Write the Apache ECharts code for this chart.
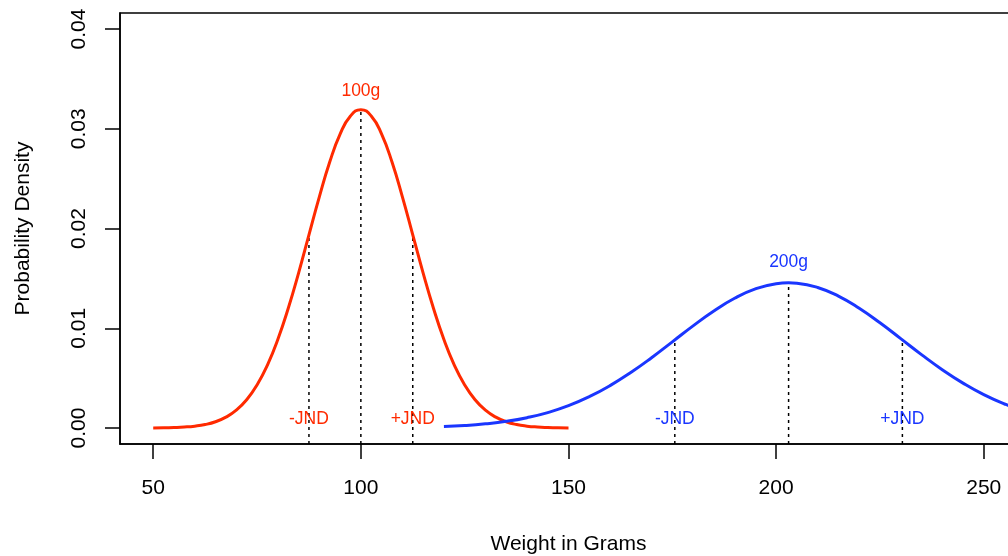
<!DOCTYPE html>
<html>
<head>
<meta charset="utf-8">
<script src="https://cdn.jsdelivr.net/npm/echarts@6/dist/echarts.min.js"></script>
<style>
  html, body { margin: 0; padding: 0; background: #fff; }
  #chart { width: 1008px; height: 556px; }
</style>
</head>
<body>
<div id="chart"></div>
<script>
// weights (g) and densities
const redX = [50, 52.5, 55, 57.5, 60, 62.5, 65, 67.5, 70, 72.5, 75, 77.5, 80, 82.5, 85, 87.5, 90, 92.5, 95, 97.5,
  100, 102.5, 105, 107.5, 110, 112.5, 115, 117.5, 120, 122.5, 125, 127.5, 130, 132.5, 135, 137.5, 140, 142.5, 145, 147.5, 150];
const redY = [0.00001, 0.00002, 0.00005, 0.00010, 0.00019, 0.00035, 0.00063, 0.00109, 0.00179, 0.00284, 0.00432,
  0.00631, 0.00887, 0.01198, 0.01553, 0.01936, 0.02317, 0.02666, 0.02946, 0.03128,
  0.03191, 0.03128, 0.02946, 0.02666, 0.02317, 0.01936, 0.01553, 0.01198, 0.00887, 0.00631,
  0.00432, 0.00284, 0.00179, 0.00109, 0.00063, 0.00035, 0.00019, 0.00010, 0.00005, 0.00002, 0.00001];

const blueX = [120, 125, 130, 135, 140, 145, 150, 155, 160, 165, 170, 175, 180, 185, 190, 195, 200, 203,
  205, 210, 215, 220, 225, 230, 235, 240, 245, 250, 255, 260, 265];
const blueY = [0.00015, 0.00025, 0.00042, 0.00067, 0.00104, 0.00155, 0.00224, 0.00314, 0.00425, 0.00557,
  0.00705, 0.00864, 0.01024, 0.01173, 0.01301, 0.01395, 0.01447, 0.01456, 0.01452, 0.01409, 0.01323,
  0.01201, 0.01055, 0.00896, 0.00736, 0.00585, 0.00450, 0.00334, 0.00241, 0.00167, 0.00113];

// dotted guide lines: x position, top value
const redGuides = [[87.5, 0.01936], [100, 0.03191], [112.5, 0.01936]];
const blueGuides = [[175.6, 0.00883], [203, 0.01456], [230.4, 0.00883]];

// text labels: x, y, text
const redText = [[100, 0.0338, '100g'], [87.5, 0.0009, '-JND'], [112.5, 0.0009, '+JND']];
const blueText = [[203, 0.01665, '200g'], [175.6, 0.0009, '-JND'], [230.4, 0.0009, '+JND']];

const xTicks = [50, 100, 150, 200, 250];
const yTicks = [0, 0.01, 0.02, 0.03, 0.04];

const RED = '#ff2a00';
const BLUE = '#1a36ff';
const FONT = 'Liberation Sans, Arial, sans-serif';
const yBottom = -0.0016;

const chart = echarts.init(document.getElementById('chart'));

function zip(xs, ys) { return xs.map((x, i) => [x, ys[i]]); }

function guideSeries(list) {
  return list.map(g => ({
    type: 'line',
    data: [[g[0], yBottom], [g[0], g[1]]],
    symbol: 'none',
    silent: true,
    lineStyle: { color: '#000', width: 1.5, type: [3, 4] },
    z: 1
  }));
}

function textSeries(list, color) {
  return {
    type: 'scatter',
    data: list.map(t => ({ value: [t[0], t[1]], name: t[2] })),
    symbolSize: 0,
    silent: true,
    label: {
      show: true,
      position: 'inside',
      formatter: p => p.name,
      color: color,
      opacity: 1,
      fontSize: 17.5,
      fontFamily: FONT
    },
    z: 5
  };
}

chart.setOption({
  animation: false,
  backgroundColor: '#fff',
  grid: {
    left: 120, top: 13, width: 897, height: 431,
    show: true, borderColor: '#000', borderWidth: 1.5,
    containLabel: false,
    outerBoundsMode: 'none'
  },
  xAxis: {
    type: 'value',
    min: 42, max: 258,
    name: 'Weight in Grams',
    nameLocation: 'middle',
    nameGap: 90,
    nameTextStyle: { fontSize: 21, color: '#000', fontFamily: FONT },
    axisLine: { show: true, onZero: false, lineStyle: { color: '#000', width: 1.5 } },
    axisTick: { show: true, length: 15, customValues: xTicks, lineStyle: { color: '#000', width: 1.5 } },
    axisLabel: { customValues: xTicks, margin: 34, fontSize: 21, color: '#000', fontFamily: FONT },
    splitLine: { show: false }
  },
  yAxis: {
    type: 'value',
    min: yBottom, max: 0.0416,
    name: 'Probability Density',
    nameLocation: 'middle',
    nameRotate: 90,
    nameGap: 86,
    nameTextStyle: { fontSize: 21, color: '#000', fontFamily: FONT },
    axisLine: { show: true, lineStyle: { color: '#000', width: 1.5 } },
    axisTick: { show: true, length: 15, customValues: yTicks, lineStyle: { color: '#000', width: 1.5 } },
    axisLabel: {
      customValues: yTicks, rotate: 90, margin: 30, fontSize: 21, color: '#000', fontFamily: FONT,
      formatter: v => v.toFixed(2)
    },
    splitLine: { show: false }
  },
  series: [
    ...guideSeries(redGuides),
    ...guideSeries(blueGuides),
    {
      type: 'line', data: zip(redX, redY), smooth: true, symbol: 'none', silent: true,
      lineStyle: { color: RED, width: 3 }, z: 3
    },
    {
      type: 'line', data: zip(blueX, blueY), smooth: true, symbol: 'none', silent: true, clip: true,
      lineStyle: { color: BLUE, width: 3 }, z: 3
    },
    textSeries(redText, RED),
    textSeries(blueText, BLUE)
  ]
});
</script>
</body>
</html>
